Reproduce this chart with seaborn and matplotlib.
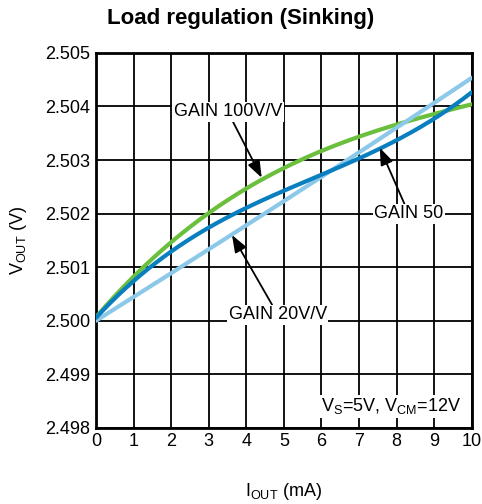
import numpy as np
import pandas as pd
import matplotlib
matplotlib.use('Agg')
import matplotlib.pyplot as plt
import seaborn as sns

# data
i_out = [0, 1, 2, 3, 4, 5, 6, 7, 8, 9, 10]
gain_100 = [2.5000, 2.50095, 2.50145, 2.50197, 2.50246, 2.50284, 2.50317, 2.50343, 2.50368, 2.50390, 2.50401]
gain_50 = [2.5000, 2.50085, 2.50128, 2.50169, 2.50208, 2.50244, 2.50275, 2.50303, 2.50337, 2.50378, 2.50426]
gain_20 = [2.5000, 2.50045, 2.50088, 2.50132, 2.50179, 2.50225, 2.50269, 2.50312, 2.50362, 2.50406, 2.50454]
y_ticks = [2.498, 2.499, 2.500, 2.501, 2.502, 2.503, 2.504, 2.505]
x_ticks = list(range(11))

sns.set_style('white')
plt.rcParams['font.family'] = ['Liberation Sans', 'DejaVu Sans']
plt.rcParams['mathtext.fontset'] = 'custom'
plt.rcParams['mathtext.rm'] = 'Liberation Sans'
plt.rcParams['text.color'] = 'black'
plt.rcParams['axes.labelcolor'] = 'black'

df = pd.DataFrame({'I': i_out * 3,
                   'V': gain_20 + gain_50 + gain_100,
                   'gain': ['20'] * 11 + ['50'] * 11 + ['100'] * 11})
colors = {'20': '#8cc8e8', '50': '#0a7fc0', '100': '#6abf3c'}

fig = plt.figure(figsize=(4.82, 5.04), dpi=100)
ax = fig.add_axes([0.199, 0.151, 0.780, 0.744])

ax.set_xlim(0, 10)
ax.set_ylim(2.498, 2.505)
ax.set_xticks(x_ticks)
ax.set_yticks(y_ticks)
ax.set_yticklabels([f'{t:.3f}' for t in y_ticks])
ax.grid(True, color='black', linewidth=1.3)
ax.set_axisbelow(True)
for s in ax.spines.values():
    s.set_color('black')
    s.set_linewidth(2)
ax.tick_params(length=0, labelsize=13, pad=4, colors='black')

# smooth curves through the read points
xs = np.linspace(0, 10, 200)
for g in ['100', '20', '50']:
    sub = df[df['gain'] == g]
    coef = np.polyfit(sub['I'], sub['V'], 3)
    sns.lineplot(x=xs, y=np.polyval(coef, xs), ax=ax, color=colors[g], linewidth=3, zorder=3)

bbox = dict(facecolor='white', edgecolor='none', pad=1)
arrow = dict(arrowstyle='-|>,head_length=0.8,head_width=0.3', color='black', lw=1.3, shrinkA=0, shrinkB=0)
ax.annotate('GAIN 100V/V', xy=(4.41, 2.50267), xytext=(3.51, 2.50390), fontsize=13,
            ha='center', va='center', bbox=bbox, arrowprops=arrow, zorder=5)
ax.annotate('GAIN 50', xy=(7.55, 2.50323), xytext=(8.32, 2.50200), fontsize=13,
            ha='center', va='center', bbox=bbox, arrowprops=arrow, zorder=5)
ax.annotate('GAIN 20V/V', xy=(3.62, 2.50160), xytext=(4.84, 2.50011), fontsize=13,
            ha='center', va='center', bbox=bbox, arrowprops=arrow, zorder=5)
ax.text(9.72, 2.4984, r'V$_{\mathregular{S}}$=5V, V$_{\mathregular{CM}}$=12V', fontsize=13,
        ha='right', va='center', bbox=bbox, zorder=5)

ax.set_xlabel(r'I$_{\mathregular{OUT}}$ (mA)', fontsize=13, labelpad=22)
ax.set_ylabel(r'V$_{\mathregular{OUT}}$ (V)', fontsize=13, labelpad=12)
fig.text(0.5, 0.963, 'Load regulation (Sinking)', fontsize=16, fontweight='bold',
         ha='center', va='center')

fig.savefig('out.png', dpi=100)
